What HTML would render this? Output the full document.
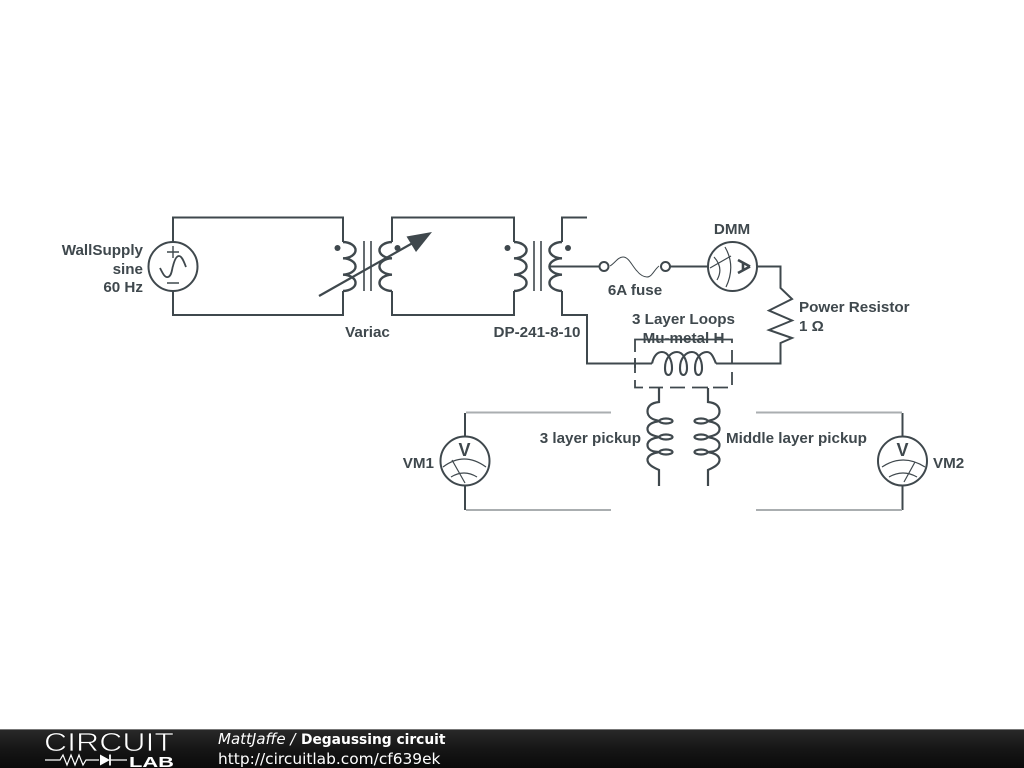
<!DOCTYPE html>
<html><head><meta charset="utf-8"><style>
html,body{margin:0;padding:0;background:#fff;width:1024px;height:768px;overflow:hidden}
svg{display:block}
</style></head><body>
<svg width="1024" height="768" viewBox="0 0 1024 768" xmlns="http://www.w3.org/2000/svg">
<defs>
<linearGradient id="bar" x1="0" y1="0" x2="0" y2="1"><stop offset="0" stop-color="#2a2a2a"/><stop offset="0.5" stop-color="#161616"/><stop offset="1" stop-color="#0a0a0a"/></linearGradient>
</defs>
<g fill="none" stroke="#3f484d" stroke-width="2" stroke-linejoin="miter">
<!-- source loop -->
<path d="M173 242V217.5H343V242M173 291V315H343V291"/>
<circle cx="173" cy="266.5" r="24.5"/>
<path d="M167 252h12M173 246v12M167 283h12" stroke-width="1.4"/>
<path d="M160 268C163 274 165 278 168 277C172 276 172 268 173 266C175 258 177 256 179 256C182 256 184 262 186 267" stroke-width="1.800"/>
<!-- variac coils -->
<g stroke-width="2.400">
<path d="M343 242a13 8.170 0 0 1 0 16.330a13 8.170 0 0 1 0 16.330a13 8.170 0 0 1 0 16.330"/>
<path d="M392 242a13 8.170 0 0 0 0 16.330a13 8.170 0 0 0 0 16.330a13 8.170 0 0 0 0 16.330"/>
<path d="M514 242a13 8.170 0 0 1 0 16.330a13 8.170 0 0 1 0 16.330a13 8.170 0 0 1 0 16.330"/>
<path d="M562 242a13 8.170 0 0 0 0 16.330a13 8.170 0 0 0 0 16.330a13 8.170 0 0 0 0 16.330"/>
</g>
<path d="M364 241V291M371 241V291" stroke-width="1.600"/>
<path d="M392 242V217.500H514V242M392 291V315H514V291"/>
<path d="M319 296L418 240" stroke-width="2.200"/>
<path d="M534 241V291M541 241V291" stroke-width="1.600"/>
<path d="M587 217.500H562V242M562 291V315H587V363.500H652"/>
<path d="M550 266.500H600"/>
<!-- fuse -->
<circle cx="604" cy="266.500" r="4.500"/><circle cx="665.500" cy="266.500" r="4.500"/>
<path d="M610 266C615 263 618 257 623 257C629 257 632 266 637 271C640 275 644 277 647 277C652 277 654 270 659 266" stroke-width="1"/>
<path d="M670 266.500H708"/>
<!-- ammeter -->
<circle cx="732.500" cy="266.500" r="24.500"/>
<path d="M714 257Q724 268 717 280M725 247Q736 266 726 287M710 268L731 256" stroke-width="1.200"/>
<path d="M750 266.500L738 260M750 266.500L738 273M743 263V270" stroke-width="2.600"/>
<!-- resistor -->
<path d="M757 266.500H780.500V288L792 299L769 310.500L792 320.500L769 330L792 338L780.500 343V363.500H716"/>
<!-- inductor -->
<path d="M652 363.500C654 355 658 352 662 352C668 352 672 360 672 368C672 373 670 375 668.500 375C666 375 665 372 665 368C665 358 671 352 677 352C683 352 687 360 687 368C687 373 685 375 683.500 375C681 375 680 372 680 368C680 358 686 352 692 352C698 352 702 360 702 368C702 373 700 375 698.500 375C696 375 695 372 695 368C695 358 701 352 707 352C711 352 713 356 716 363.500" stroke-width="2.100"/>
<!-- shield -->
<path d="M635 352V339.500H732V343M635 360V373M635 380V387.500H643M649 387.500H663M670 387.500H685M692 387.500H708M713 387.500H728M732 350V363M732 372V385" stroke-width="1.800"/>
<path d="M635 358V368" stroke-width="1.800"/>
<!-- pickups -->
<g stroke-width="2.200">
<path d="M659 388V402C650 403 647.500 407 647.500 411.500C647.500 417 653 420 660 421C653 422 647.500 424 647.500 429C647.500 434 653 436 660 437C653 438 647.500 440 647.500 445C647.500 450 653 452 660 452C653 453 647.500 455 647.500 460C647.500 465 655 468 659 470V486"/>
<ellipse cx="666" cy="421" rx="6.500" ry="2.500"/><ellipse cx="666" cy="437" rx="6.500" ry="2.500"/><ellipse cx="666" cy="452" rx="6.500" ry="2.500"/>
<path d="M708 388V402C717 403 719.500 407 719.500 411.500C719.500 417 714 420 707 421C714 422 719.500 424 719.500 429C719.500 434 714 436 707 437C714 438 719.500 440 719.500 445C719.500 450 714 452 707 452C714 453 719.500 455 719.500 460C719.500 465 712 468 708 470V486"/>
<ellipse cx="701" cy="421" rx="6.500" ry="2.500"/><ellipse cx="701" cy="437" rx="6.500" ry="2.500"/><ellipse cx="701" cy="452" rx="6.500" ry="2.500"/>
</g>
<!-- voltmeters -->
<circle cx="465" cy="461" r="24.500"/>
<circle cx="902.500" cy="461" r="24.500"/>
<path d="M465 413V436.500M465 485.500V510M902.500 413V436.500M902.500 485.500V510"/>
<path d="M443 467Q464 451 486 467M451 477Q464 469 477 477M452 460L465 483" stroke-width="1.200"/>
<path d="M882 467Q903 453 925 467M889 477Q903 469 917 477M915 462L904 482" stroke-width="1.200"/>
</g>
<g stroke="#aaaeb0" stroke-width="2" fill="none">
<path d="M466 412.500H611M466 510H611M756 412.500H902M756 510H902"/>
</g>
<g fill="#3f484d">
<circle cx="337.500" cy="248" r="3"/><circle cx="397.500" cy="248" r="3"/>
<circle cx="507.500" cy="248" r="3"/><circle cx="568" cy="248" r="3"/>
<path d="M432 232L406.500 236.500L416 252Z"/>
</g>
<g font-family="'Liberation Sans',sans-serif" font-weight="bold" font-size="15.200" fill="#3f484d">
<text x="143" y="255" text-anchor="end">WallSupply</text>
<text x="143" y="274" text-anchor="end">sine</text>
<text x="143" y="292" text-anchor="end">60 Hz</text>
<text x="367.500" y="337" text-anchor="middle">Variac</text>
<text x="537" y="337" text-anchor="middle">DP-241-8-10</text>
<text x="635" y="295" text-anchor="middle">6A fuse</text>
<text x="732" y="234" text-anchor="middle">DMM</text>
<text x="799" y="312">Power Resistor</text>
<text x="799" y="331">1 Ω</text>
<text x="683.500" y="324" text-anchor="middle">3 Layer Loops</text>
<text x="683.500" y="343" text-anchor="middle">Mu-metal H</text>
<text x="641" y="443" text-anchor="end">3 layer pickup</text>
<text x="726" y="443">Middle layer pickup</text>
<text x="434" y="468" text-anchor="end">VM1</text>
<text x="933" y="468">VM2</text>
<text x="464.500" y="456" text-anchor="middle" font-size="18">V</text>
<text x="902.500" y="456" text-anchor="middle" font-size="18">V</text>
</g>
<!-- footer -->
<rect x="0" y="729" width="1024" height="39" fill="url(#bar)"/>
<rect x="0" y="729" width="1024" height="1" fill="#777"/>
<g font-family="'Liberation Sans',sans-serif" fill="#fff">
<text x="44" y="751" font-size="25.500" textLength="130" lengthAdjust="spacingAndGlyphs" stroke="#1a1a1a" stroke-width="0.700">CIRCUIT</text>
<text x="129" y="767" font-size="15" font-weight="bold" textLength="45" lengthAdjust="spacingAndGlyphs">LAB</text>
</g>
<g fill="none" stroke="#fff" stroke-width="1.200">
<path d="M45 760H60l3-5 4 10 4-10 4 10 4-10 4 10 3-5H99M110 760H127"/>
<path d="M110 754.500V765.500" stroke-width="1.800"/>
</g>
<path d="M100 754.500L110 760L100 765.500Z" fill="#fff"/>
<g font-family="'DejaVu Sans',sans-serif" fill="#fff">
<text x="218" y="744" font-size="15" font-style="italic">MattJaffe /</text>
<text x="301" y="744" font-size="13.800" font-weight="bold">Degaussing circuit</text>
<text x="218" y="764" font-size="15.400">http://circuitlab.com/cf639ek</text>
</g>
</svg>
</body></html>
